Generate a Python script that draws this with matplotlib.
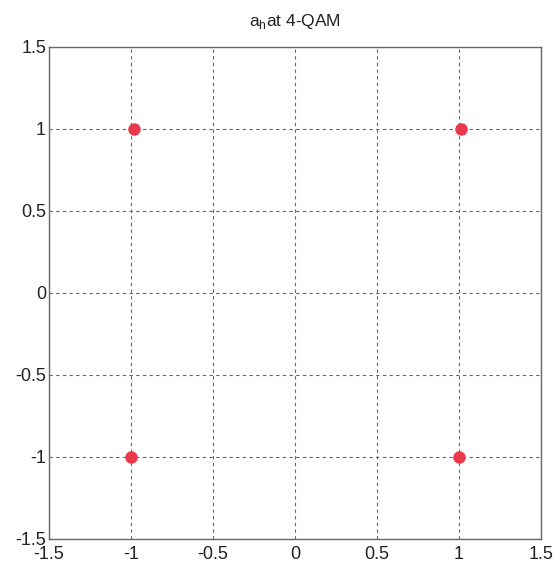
import matplotlib
matplotlib.use("Agg")
import matplotlib.pyplot as plt

# ==========================
# Data
# ==========================

symbol_i = [-0.98, 1.01, -1.0, 1.0]
symbol_q = [1.0, 1.0, -1.0, -1.0]

ticks = [-1.5, -1, -0.5, 0, 0.5, 1, 1.5]
tick_labels = ["-1.5", "-1", "-0.5", "0", "0.5", "1", "1.5"]

# ==========================
# Plot
# ==========================

plt.rcParams["font.family"] = ["Liberation Sans", "DejaVu Sans"]

fig = plt.figure(figsize=(5.55, 5.63), dpi=100)
ax = fig.add_axes([0.088, 0.043, 0.887, 0.874])

ax.plot(symbol_i, symbol_q, "o", color="#e83a4c", markersize=8, zorder=3)

ax.set_xlim(-1.5, 1.5)
ax.set_ylim(-1.5, 1.5)
ax.set_xticks(ticks)
ax.set_yticks(ticks)
ax.set_xticklabels(tick_labels, fontsize=13)
ax.set_yticklabels(tick_labels, fontsize=13)
ax.tick_params(axis="y", length=0, pad=2, colors="#222222")
ax.tick_params(axis="x", length=0, pad=5, colors="#222222")

ax.grid(True, linestyle=(0, (3, 3)), color="#666666", linewidth=0.8)
for spine in ax.spines.values():
    spine.set_color("#666666")
    spine.set_linewidth(1.0)

ax.set_title(r"a$_\mathregular{h}$at 4-QAM", fontsize=12.5, pad=15, color="#222222")

fig.savefig("out.png", dpi=100)
